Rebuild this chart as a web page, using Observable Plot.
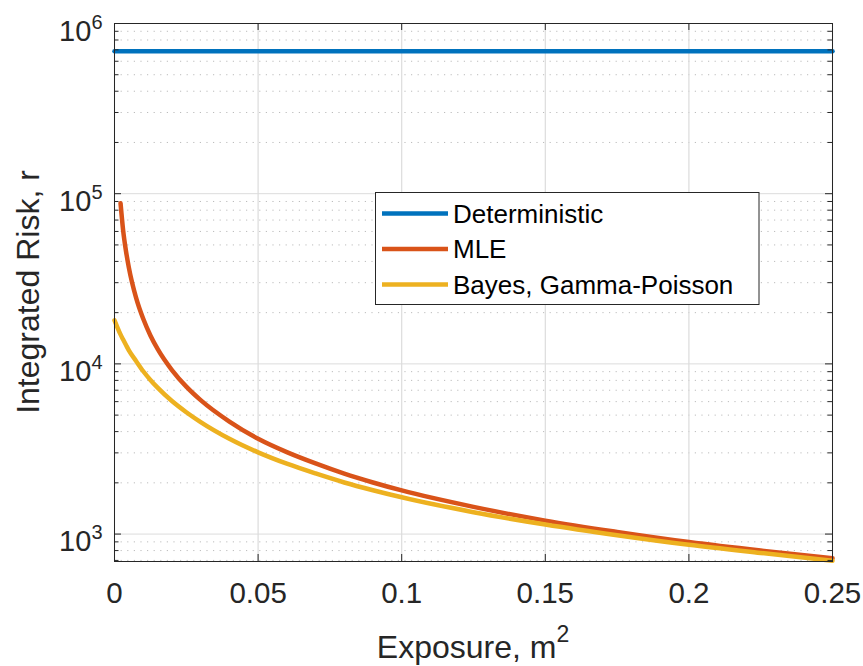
<!DOCTYPE html>
<html>
<head>
<meta charset="utf-8">
<script src="https://cdn.jsdelivr.net/npm/d3@7"></script>
<script src="https://cdn.jsdelivr.net/npm/@observablehq/plot@0.6"></script>
<style>
  html, body { margin: 0; padding: 0; background: #fff; }
  #chart { position: relative; width: 863px; height: 666px; }
</style>
</head>
<body>
<div id="chart"></div>
<script>
// ---- data ----
const seriesNames = ["Deterministic", "MLE", "Bayes, Gamma-Poisson"];
const seriesColors = ["#0072BD", "#D95319", "#EDB120"];

const detX = [0, 0.25];
const detY = [687000, 687000];

const mleX = [0.0021, 0.003, 0.004, 0.005, 0.0075, 0.01, 0.0125, 0.015, 0.02, 0.025, 0.03, 0.04, 0.05, 0.06, 0.07, 0.08, 0.09, 0.1, 0.125, 0.15, 0.175, 0.2, 0.225, 0.25];
const mleY = [88000, 61000, 46000, 36800, 24500, 18400, 14700, 12250, 9200, 7350, 6120, 4580, 3630, 3030, 2600, 2265, 2010, 1805, 1445, 1200, 1030, 898, 800, 722];

const bayesX = [0, 0.001, 0.002, 0.003, 0.004, 0.005, 0.0075, 0.01, 0.0125, 0.015, 0.02, 0.025, 0.03, 0.04, 0.05, 0.06, 0.07, 0.08, 0.09, 0.1, 0.125, 0.15, 0.175, 0.2, 0.225, 0.25];
const bayesY = [18000, 16400, 15000, 13900, 12900, 12000, 10400, 9050, 8050, 7250, 6050, 5200, 4550, 3630, 3020, 2590, 2270, 2010, 1810, 1645, 1345, 1138, 985, 865, 775, 698];

const xTicks = [0, 0.05, 0.1, 0.15, 0.2, 0.25];
const xTickLabels = ["0", "0.05", "0.1", "0.15", "0.2", "0.25"];
const yTicks = [1e3, 1e4, 1e5, 1e6];
const yTickExps = ["3", "4", "5", "6"];
const yMinor = [700, 800, 900,
  2000, 3000, 4000, 5000, 6000, 7000, 8000, 9000,
  20000, 30000, 40000, 50000, 60000, 70000, 80000, 90000,
  200000, 300000, 400000, 500000, 600000, 700000, 800000, 900000];
const xDomain = [0, 0.25];
const yDomain = [690, 1e6];
const xLabel = "Exposure, m";
const xLabelSup = "2";
const yLabel = "Integrated Risk, r";

// ---- layout ----
const W = 863, H = 666;
const mL = 114, mR = 31, mT = 23, mB = 105;
const fw = W - mL - mR, fh = H - mT - mB;
const ink = "#262626";
const font = "'Liberation Sans', Arial, Helvetica, sans-serif";

const toRows = (xs, ys) => xs.map((x, i) => ({x, y: ys[i]}));

const plot = Plot.plot({
  width: W, height: H,
  marginLeft: mL, marginRight: mR, marginTop: mT, marginBottom: mB,
  x: {domain: xDomain},
  y: {type: "log", domain: yDomain},
  style: {fontFamily: font, color: ink, background: "white"},
  marks: [
    Plot.ruleY(yMinor, {y: d => d, stroke: "#bcbcbc", strokeWidth: 1, strokeDasharray: "1.2,5.4"}),
    Plot.ruleY(yTicks, {y: d => d, stroke: "#dcdcdc", strokeWidth: 1}),
    Plot.ruleX(xTicks, {x: d => d, stroke: "#dcdcdc", strokeWidth: 1.2}),
    Plot.line(toRows(detX, detY), {x: "x", y: "y", stroke: seriesColors[0], strokeWidth: 4.5}),
    Plot.line(toRows(mleX, mleY), {x: "x", y: "y", stroke: seriesColors[1], strokeWidth: 4.5, curve: "monotone-x"}),
    Plot.line(toRows(bayesX, bayesY), {x: "x", y: "y", stroke: seriesColors[2], strokeWidth: 4.5, curve: "monotone-x"}),
    Plot.frame({stroke: ink, strokeWidth: 1}),
    // inward ticks on all four sides
    Plot.tickX(xTicks, {x: d => d, insetTop: fh - 7, stroke: ink}),
    Plot.tickX(xTicks, {x: d => d, insetBottom: fh - 7, stroke: ink}),
    Plot.tickY(yTicks, {y: d => d, insetRight: fw - 7, stroke: ink}),
    Plot.tickY(yTicks, {y: d => d, insetLeft: fw - 7, stroke: ink}),
    Plot.tickY(yMinor, {y: d => d, insetRight: fw - 4.5, stroke: ink}),
    Plot.tickY(yMinor, {y: d => d, insetLeft: fw - 4.5, stroke: ink}),
    Plot.axisX({ticks: xTicks, tickSize: 0, tickPadding: 21, fontSize: 29.5, label: null,
      tickFormat: d => xTickLabels[xTicks.indexOf(d)], fill: ink}),
    Plot.axisY({ticks: yTicks, tickSize: 0, tickPadding: 12, fontSize: 29, label: null,
      tickFormat: d => "10", dy: 8, fill: ink, className: "ylab"})
  ]
});

document.getElementById("chart").appendChild(plot);
const svg = d3.select(plot);

// superscript exponents on the y tick labels
svg.selectAll(".ylab text").each(function(d, i) {
  d3.select(this).append("tspan")
    .attr("font-size", 20)
    .attr("dy", -12)
    .text(yTickExps[i]);
});

// axis labels
const xl = svg.append("text")
  .attr("x", mL + fw / 2).attr("y", 658)
  .attr("text-anchor", "middle")
  .attr("font-size", 32).attr("fill", ink)
  .attr("font-family", font);
xl.append("tspan").text(xLabel);
xl.append("tspan").attr("font-size", 23).attr("dy", -16).text(xLabelSup);

svg.append("text")
  .attr("transform", `translate(39,${mT + fh / 2}) rotate(-90)`)
  .attr("text-anchor", "middle")
  .attr("font-size", 32).attr("fill", ink)
  .attr("font-family", font)
  .text(yLabel);

// legend
const lg = svg.append("g");
lg.append("rect")
  .attr("x", 375.5).attr("y", 192.5).attr("width", 383.5).attr("height", 112)
  .attr("fill", "white").attr("stroke", ink).attr("stroke-width", 1);
const rowY = [213.5, 249, 284.5];
seriesNames.forEach((name, i) => {
  lg.append("line")
    .attr("x1", 382).attr("x2", 448).attr("y1", rowY[i]).attr("y2", rowY[i])
    .attr("stroke", seriesColors[i]).attr("stroke-width", 4.5);
  lg.append("text")
    .attr("x", 453).attr("y", rowY[i]).attr("dy", "0.36em")
    .attr("text-anchor", "start")
    .attr("font-size", 26).attr("fill", "#000")
    .attr("font-family", font)
    .text(name);
});
</script>
</body>
</html>
